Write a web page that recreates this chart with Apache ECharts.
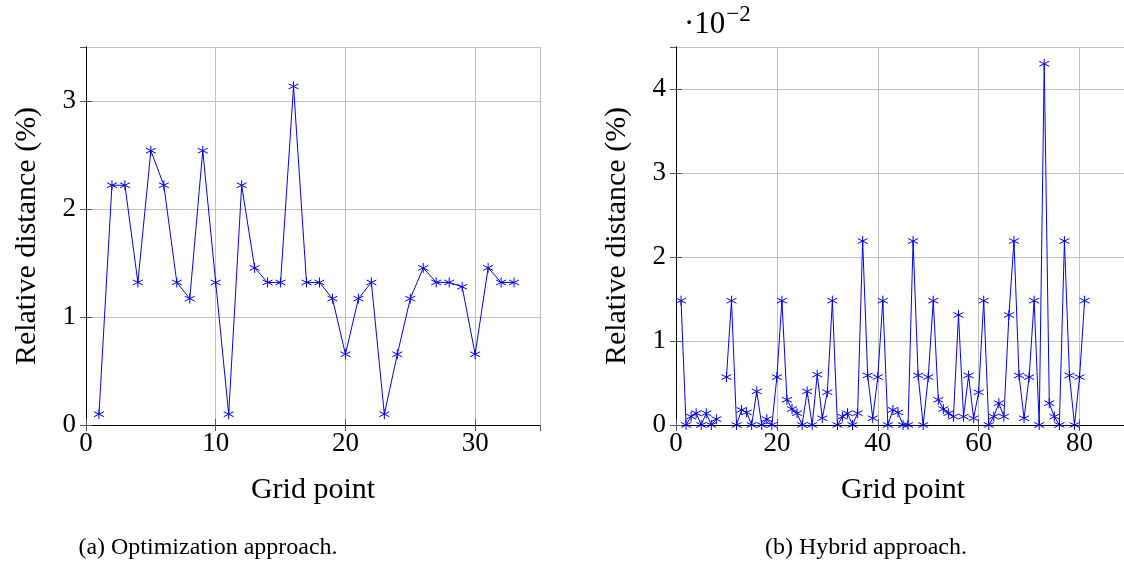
<!DOCTYPE html>
<html>
<head>
<meta charset="utf-8">
<script src="https://cdn.jsdelivr.net/npm/echarts@6/dist/echarts.min.js"></script>
<style>
  html, body { margin: 0; padding: 0; background: #fff; }
  #chart { width: 1124px; height: 565px; }
</style>
</head>
<body>
<div id="chart"></div>
<script>
// (a) optimization approach, grid points 1..33
let optX = [];
for (let i = 1; i <= 33; i++) optX.push(i);
let optVal = [0.10, 2.22, 2.22, 1.32, 2.54, 2.22, 1.32, 1.17, 2.54, 1.32,
              0.10, 2.22, 1.455, 1.32, 1.32, 3.135, 1.32, 1.32, 1.17, 0.655,
              1.17, 1.32, 0.10, 0.655, 1.17, 1.455, 1.32, 1.32, 1.28, 0.655,
              1.455, 1.32, 1.32];

// (b) hybrid approach, grid points 1..81 (values x 10^-2), point 9 missing
let hybX = [];
for (let i = 1; i <= 81; i++) hybX.push(i);
let hybVal = [1.48, 0, 0.10, 0.14, 0, 0.14, 0, 0.07, null, 0.57,
              1.48, 0, 0.18, 0.15, 0, 0.40, 0, 0.07, 0, 0.57,
              1.48, 0.30, 0.19, 0.14, 0, 0.40, 0, 0.60, 0.08, 0.39,
              1.48, 0, 0.10, 0.14, 0, 0.14, 2.19, 0.59, 0.08, 0.57,
              1.48, 0, 0.18, 0.15, 0, 0, 2.19, 0.59, 0, 0.57,
              1.48, 0.30, 0.19, 0.14, 0.10, 1.31, 0.10, 0.59, 0.08, 0.39,
              1.48, 0, 0.10, 0.26, 0.10, 1.31, 2.19, 0.59, 0.08, 0.57,
              1.48, 0, 4.30, 0.26, 0.10, 0, 2.19, 0.59, 0, 0.57,
              1.48];

let serif = 'Liberation Serif';
let blue = '#0000ff';
let asterisk = 'path://M0,-1L0,1M-0.866,-0.5L0.866,0.5M-0.866,0.5L0.866,-0.5';

let pairs = (xs, ys) => xs.map((x, i) => [x, ys[i]]);

let xAxisBase = (idx, max) => ({
    type: 'value',
    gridIndex: idx,
    min: 0,
    max: max,
    interval: idx === 0 ? 10 : 20,
    name: 'Grid point',
    nameLocation: 'middle',
    nameGap: 50,
    nameTextStyle: { fontFamily: serif, fontSize: 30, color: '#000' },
    axisLine: { show: true, lineStyle: { color: '#000', width: 1 } },
    axisTick: { show: true, inside: true, length: 6, lineStyle: { color: '#555' } },
    axisLabel: { fontFamily: serif, fontSize: 27, color: '#000', margin: 5, showMaxLabel: false },
    splitLine: { show: true, lineStyle: { color: '#c0c0c0', width: 1 } }
});

let yAxisBase = (idx, max) => ({
    type: 'value',
    gridIndex: idx,
    min: 0,
    max: max,
    interval: 1,
    name: 'Relative distance (%)',
    nameLocation: 'middle',
    nameGap: 44,
    nameTextStyle: { fontFamily: serif, fontSize: 30, color: '#000' },
    axisLine: { show: true, lineStyle: { color: '#000', width: 1 } },
    axisTick: { show: true, inside: true, length: 6, lineStyle: { color: '#555' } },
    axisLabel: {
        fontFamily: serif, fontSize: 27, color: '#000', margin: 10,
        showMaxLabel: false
    },
    splitLine: { show: true, lineStyle: { color: '#c0c0c0', width: 1 } }
});

// mirrored ticks on top/right like pgfplots
let mirrorX = (idx, max) => ({
    type: 'value', gridIndex: idx, position: 'top', min: 0, max: max,
    interval: idx === 0 ? 10 : 20,
    axisLine: { show: true, lineStyle: { color: '#000' } },
    axisTick: { show: true, inside: true, length: 6, lineStyle: { color: '#555' } },
    axisLabel: { show: false }, splitLine: { show: false }
});
let mirrorY = (idx, max) => ({
    type: 'value', gridIndex: idx, position: 'right', min: 0, max: max, interval: 1,
    axisLine: { show: true, lineStyle: { color: '#000' } },
    axisTick: { show: true, inside: true, length: 6, lineStyle: { color: '#555' } },
    axisLabel: { show: false }, splitLine: { show: false }
});

let lineSeries = (idx, data) => ({
    type: 'line',
    xAxisIndex: idx,
    yAxisIndex: idx,
    data: data,
    connectNulls: false,
    symbol: asterisk,
    symbolSize: [10, 10],
    showAllSymbol: true,
    lineStyle: { color: blue, width: 1 },
    itemStyle: { color: 'none', borderColor: blue, borderWidth: 1 },
    animation: false
});

let option = {
    animation: false,
    grid: [
        { left: 86, top: 47, width: 454, height: 378, outerBoundsMode: 'none', containLabel: false },
        { left: 676, top: 47, width: 454, height: 378, outerBoundsMode: 'none', containLabel: false }
    ],
    xAxis: [xAxisBase(0, 35), xAxisBase(1, 90), mirrorX(0, 35), mirrorX(1, 90)],
    yAxis: [yAxisBase(0, 3.5), yAxisBase(1, 4.5), mirrorY(0, 3.5), mirrorY(1, 4.5)],
    series: [
        lineSeries(0, pairs(optX, optVal)),
        lineSeries(1, pairs(hybX, hybVal))
    ],
    graphic: [
        {
            type: 'text', left: 684, top: 3,
            style: {
                text: '{a|·10}{b|−2}',
                rich: {
                    a: { fontFamily: serif, fontSize: 31, fill: '#000', verticalAlign: 'bottom' },
                    b: { fontFamily: serif, fontSize: 23, fill: '#000', padding: [0, 0, 14, 1] }
                }
            }
        },
        {
            type: 'text', x: 208, y: 548,
            style: {
                text: '(a) Optimization approach.', fontFamily: serif, fontSize: 24,
                fill: '#000', textAlign: 'center', textVerticalAlign: 'middle'
            }
        },
        {
            type: 'text', x: 866, y: 548,
            style: {
                text: '(b) Hybrid approach.', fontFamily: serif, fontSize: 24,
                fill: '#000', textAlign: 'center', textVerticalAlign: 'middle'
            }
        }
    ]
};

let myChart = echarts.init(document.getElementById('chart'));
myChart.setOption(option);
</script>
</body>
</html>
